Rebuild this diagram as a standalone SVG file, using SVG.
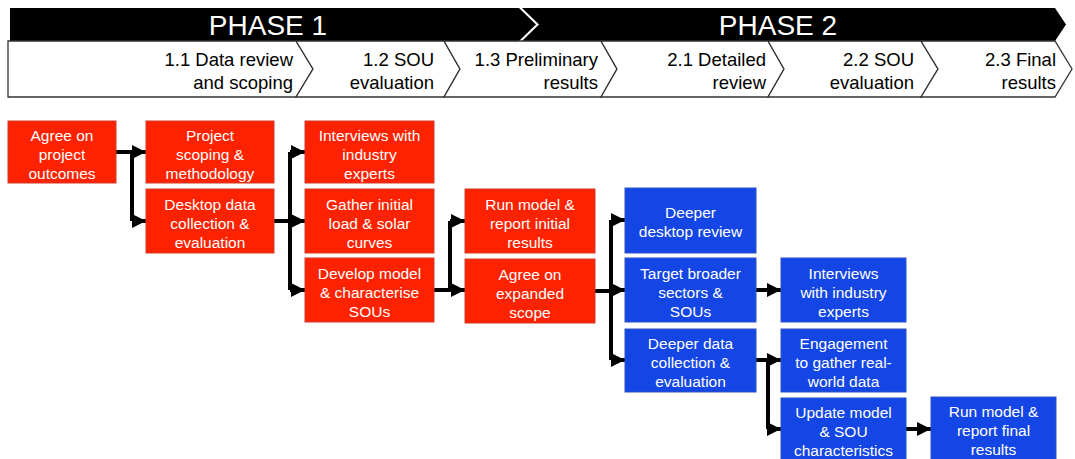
<svg xmlns="http://www.w3.org/2000/svg" width="1075" height="459" viewBox="0 0 1075 459">
<defs>
<style>
.band{fill:#000}
.ph{font-family:"Liberation Sans",Arial,sans-serif;font-size:28px;fill:#fff;text-anchor:middle}
.chev{fill:#fff;stroke:#333;stroke-width:1.3}
.ht{font-family:"Liberation Sans",Arial,sans-serif;font-size:18.5px;fill:#000;text-anchor:end}
.red{fill:#FF2200;stroke:#D23A28;stroke-width:1}
.blue{fill:#1446E6;stroke:#2C52C4;stroke-width:1}
.nt{font-family:"Liberation Sans",Arial,sans-serif;font-size:15.5px;fill:#fff;text-anchor:middle}
.ln{fill:none;stroke:#000;stroke-width:4;stroke-linejoin:miter}
</style>
<marker id="ah" markerWidth="14" markerHeight="14" viewBox="0 0 14 14" refX="14" refY="7" orient="auto" markerUnits="userSpaceOnUse">
<path d="M0,0 L14,7 L0,14 Z" fill="#000"/>
</marker>
</defs>
<rect width="1075" height="459" fill="#fff"/>

<g id="phase1">
<polygon class="band" points="10,8 519,8 536,24.5 519,41 10,41"/>
<text class="ph" x="268" y="35">PHASE 1</text>
</g>
<g id="phase2">
<polygon class="band" points="522,8 1055,8 1066,24.5 1055,41 522,41 539,24.5"/>
<text class="ph" x="778" y="35">PHASE 2</text>
</g>

<g id="step11">
<polygon class="chev" points="8,41 296,41 313,69 296,97 8,97"/>
<text class="ht" x="293" y="66">1.1 Data review</text>
<text class="ht" x="293" y="89">and scoping</text>
</g>
<g id="step12">
<polygon class="chev" points="296,41 444,41 460,69 444,97 296,97 313,69"/>
<text class="ht" x="434" y="66">1.2 SOU</text>
<text class="ht" x="434" y="89">evaluation</text>
</g>
<g id="step13">
<polygon class="chev" points="444,41 601,41 617,69 601,97 444,97 460,69"/>
<text class="ht" x="598" y="66">1.3 Preliminary</text>
<text class="ht" x="598" y="89">results</text>
</g>
<g id="step21">
<polygon class="chev" points="601,41 768,41 784,69 768,97 601,97 617,69"/>
<text class="ht" x="766" y="66">2.1 Detailed</text>
<text class="ht" x="766" y="89">review</text>
</g>
<g id="step22">
<polygon class="chev" points="768,41 921,41 938,69 921,97 768,97 784,69"/>
<text class="ht" x="914" y="66">2.2 SOU</text>
<text class="ht" x="914" y="89">evaluation</text>
</g>
<g id="step23">
<polygon class="chev" points="921,41 1055,41 1072,69 1055,97 921,97 938,69"/>
<text class="ht" x="1056" y="66">2.3 Final</text>
<text class="ht" x="1056" y="89">results</text>
</g>

<g id="connectors">
<path class="ln" d="M116,152 H132 V221"/>
<path class="ln" d="M132,152 H146" marker-end="url(#ah)"/>
<path class="ln" d="M132,221 H146" marker-end="url(#ah)"/>
<path class="ln" d="M274,221 H290 M290,152 V290"/>
<path class="ln" d="M290,152 H305" marker-end="url(#ah)"/>
<path class="ln" d="M290,221 H305" marker-end="url(#ah)"/>
<path class="ln" d="M290,290 H305" marker-end="url(#ah)"/>
<path class="ln" d="M434,290 H450 M450,221 V290"/>
<path class="ln" d="M450,221 H465" marker-end="url(#ah)"/>
<path class="ln" d="M450,290 H465" marker-end="url(#ah)"/>
<path class="ln" d="M595,291 H611 M611,220 V360"/>
<path class="ln" d="M611,220 H625" marker-end="url(#ah)"/>
<path class="ln" d="M611,290 H625" marker-end="url(#ah)"/>
<path class="ln" d="M611,360 H625" marker-end="url(#ah)"/>
<path class="ln" d="M755,290 H781" marker-end="url(#ah)"/>
<path class="ln" d="M756,360 H768 V429"/>
<path class="ln" d="M768,360 H781" marker-end="url(#ah)"/>
<path class="ln" d="M768,429 H781" marker-end="url(#ah)"/>
<path class="ln" d="M906,429 H931" marker-end="url(#ah)"/>
</g>

<g id="agree-outcomes">
<rect class="red" x="8" y="121" width="108" height="62"/>
<text class="nt" x="62" y="140.5">Agree on</text>
<text class="nt" x="62" y="159.5">project</text>
<text class="nt" x="62" y="178.5">outcomes</text>
</g>
<g id="project-scoping">
<rect class="red" x="146" y="121" width="128" height="62"/>
<text class="nt" x="210" y="140.5">Project</text>
<text class="nt" x="210" y="159.5">scoping &amp;</text>
<text class="nt" x="210" y="178.5">methodology</text>
</g>
<g id="desktop-data">
<rect class="red" x="146" y="189" width="128" height="64"/>
<text class="nt" x="210" y="209.5">Desktop data</text>
<text class="nt" x="210" y="228.5">collection &amp;</text>
<text class="nt" x="210" y="247.5">evaluation</text>
</g>
<g id="interviews-1">
<rect class="red" x="305" y="121" width="129" height="62"/>
<text class="nt" x="369.5" y="140.5">Interviews with</text>
<text class="nt" x="369.5" y="159.5">industry</text>
<text class="nt" x="369.5" y="178.5">experts</text>
</g>
<g id="gather-curves">
<rect class="red" x="305" y="189" width="129" height="64"/>
<text class="nt" x="369.5" y="209.5">Gather initial</text>
<text class="nt" x="369.5" y="228.5">load &amp; solar</text>
<text class="nt" x="369.5" y="247.5">curves</text>
</g>
<g id="develop-model">
<rect class="red" x="305" y="258" width="129" height="64"/>
<text class="nt" x="369.5" y="278.5">Develop model</text>
<text class="nt" x="369.5" y="297.5">&amp; characterise</text>
<text class="nt" x="369.5" y="316.5">SOUs</text>
</g>
<g id="run-initial">
<rect class="red" x="465" y="189" width="130" height="64"/>
<text class="nt" x="530" y="209.5">Run model &amp;</text>
<text class="nt" x="530" y="228.5">report initial</text>
<text class="nt" x="530" y="247.5">results</text>
</g>
<g id="agree-expanded">
<rect class="red" x="465" y="259" width="130" height="64"/>
<text class="nt" x="530" y="279.5">Agree on</text>
<text class="nt" x="530" y="298.5">expanded</text>
<text class="nt" x="530" y="317.5">scope</text>
</g>
<g id="deeper-desktop">
<rect class="blue" x="625" y="188" width="131" height="65"/>
<text class="nt" x="690.5" y="218">Deeper</text>
<text class="nt" x="690.5" y="237">desktop review</text>
</g>
<g id="target-broader">
<rect class="blue" x="625" y="258" width="131" height="64"/>
<text class="nt" x="690.5" y="278.5">Target broader</text>
<text class="nt" x="690.5" y="297.5">sectors &amp;</text>
<text class="nt" x="690.5" y="316.5">SOUs</text>
</g>
<g id="deeper-data">
<rect class="blue" x="625" y="329" width="131" height="63"/>
<text class="nt" x="690.5" y="349">Deeper data</text>
<text class="nt" x="690.5" y="368">collection &amp;</text>
<text class="nt" x="690.5" y="387">evaluation</text>
</g>
<g id="interviews-2">
<rect class="blue" x="781" y="258" width="125" height="64"/>
<text class="nt" x="843.5" y="278.5">Interviews</text>
<text class="nt" x="843.5" y="297.5">with industry</text>
<text class="nt" x="843.5" y="316.5">experts</text>
</g>
<g id="engagement">
<rect class="blue" x="781" y="329" width="125" height="63"/>
<text class="nt" x="843.5" y="349">Engagement</text>
<text class="nt" x="843.5" y="368">to gather real-</text>
<text class="nt" x="843.5" y="387">world data</text>
</g>
<g id="update-model">
<rect class="blue" x="781" y="398" width="125" height="64"/>
<text class="nt" x="843.5" y="418">Update model</text>
<text class="nt" x="843.5" y="437">&amp; SOU</text>
<text class="nt" x="843.5" y="456">characteristics</text>
</g>
<g id="run-final">
<rect class="blue" x="931" y="397" width="125" height="65"/>
<text class="nt" x="993.5" y="417">Run model &amp;</text>
<text class="nt" x="993.5" y="436">report final</text>
<text class="nt" x="993.5" y="455">results</text>
</g>
</svg>
